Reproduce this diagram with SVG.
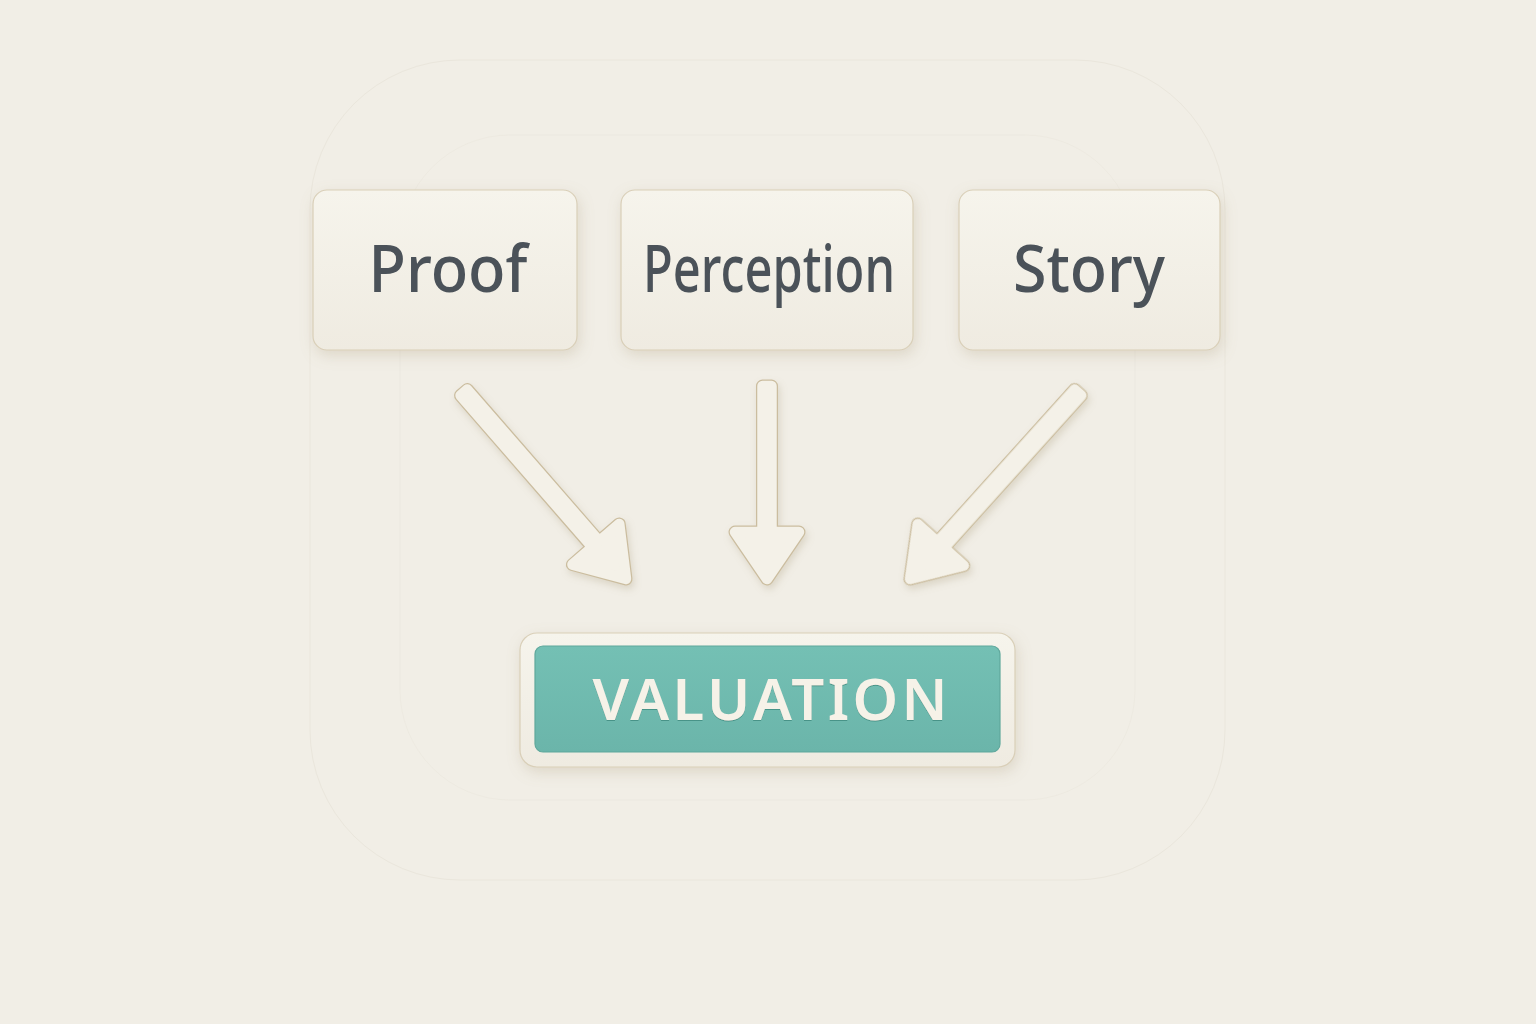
<svg xmlns="http://www.w3.org/2000/svg" width="1536" height="1024" viewBox="0 0 1536 1024">
  <defs>
    <linearGradient id="boxGrad" x1="0" y1="0" x2="0" y2="1">
      <stop offset="0" stop-color="#f6f4ec"/>
      <stop offset="1" stop-color="#efebe1"/>
    </linearGradient>
    <linearGradient id="tealGrad" x1="0" y1="0" x2="0" y2="1">
      <stop offset="0" stop-color="#74c0b4"/>
      <stop offset="1" stop-color="#6bb5aa"/>
    </linearGradient>
    <filter id="shadow" x="-20%" y="-20%" width="140%" height="150%">
      <feDropShadow dx="2" dy="5" stdDeviation="7" flood-color="#b0a284" flood-opacity="0.3"/>
    </filter>
    <filter id="arrowShadow" x="-30%" y="-10%" width="160%" height="130%">
      <feDropShadow dx="2" dy="4" stdDeviation="3.5" flood-color="#ad9f80" flood-opacity="0.3"/>
    </filter>
    <filter id="textInset" x="-5%" y="-10%" width="110%" height="130%">
      <feDropShadow dx="0" dy="1" stdDeviation="0.6" flood-color="#3f8a7f" flood-opacity="0.8"/>
    </filter>
  </defs>
  <style>
    .box { fill: url(#boxGrad); stroke: #d9cfb8; stroke-width: 1.2; }
    .label { font-family: "Noto Sans", "Open Sans", "DejaVu Sans", sans-serif; font-size: 65px; font-weight: 500; fill: #4b5259; text-anchor: middle; }
    .val { font-family: "Noto Sans", "Open Sans", "DejaVu Sans", sans-serif; font-size: 58px; font-weight: 600; fill: #f6f2e8; text-anchor: middle; }
    .arrowEdge { fill: #cbbd9f; stroke: #cbbd9f; stroke-width: 13; stroke-linejoin: round; stroke-linecap: round; }
    .arrowBody { fill: #f4f1e8; stroke: #f4f1e8; stroke-width: 10.5; stroke-linejoin: round; stroke-linecap: round; }
    .faint { fill: none; stroke: #eae6dc; stroke-width: 1; }
  </style>

  <rect x="0" y="0" width="1536" height="1024" fill="#f1eee6"/>

  <!-- faint background outlines -->
  <rect class="faint" x="310" y="60" width="915" height="820" rx="150"/>
  <rect class="faint" x="400" y="135" width="735" height="665" rx="110" opacity="0.5"/>

  <g id="connectors" filter="url(#arrowShadow)">
    <g transform="translate(460,388) rotate(-41)">
      <path class="arrowEdge" d="M -4.5,6 L 4.5,6 L 4.5,207 L 31,207 L 0,253 L -31,207 L -4.5,207 Z"/>
      <path class="arrowBody" d="M -4.5,6 L 4.5,6 L 4.5,207 L 31,207 L 0,253 L -31,207 L -4.5,207 Z"/>
    </g>
    <g transform="translate(767,380)">
      <path class="arrowEdge" d="M -4.5,6 L 4.5,6 L 4.5,152 L 32,152 L 0,199 L -32,152 L -4.5,152 Z"/>
      <path class="arrowBody" d="M -4.5,6 L 4.5,6 L 4.5,152 L 32,152 L 0,199 L -32,152 L -4.5,152 Z"/>
    </g>
    <g transform="translate(1082,388) rotate(42)">
      <path class="arrowEdge" d="M -4.5,6 L 4.5,6 L 4.5,211 L 31,211 L 0,257 L -31,211 L -4.5,211 Z"/>
      <path class="arrowBody" d="M -4.5,6 L 4.5,6 L 4.5,211 L 31,211 L 0,257 L -31,211 L -4.5,211 Z"/>
    </g>
  </g>

  <g id="node-proof">
    <rect class="box" x="313" y="190" width="264" height="160" rx="14" filter="url(#shadow)"/>
    <text class="label" x="448" y="292" textLength="159" lengthAdjust="spacingAndGlyphs">Proof</text>
  </g>

  <g id="node-perception">
    <rect class="box" x="621" y="190" width="292" height="160" rx="14" filter="url(#shadow)"/>
    <text class="label" x="769" y="292" textLength="252" lengthAdjust="spacingAndGlyphs">Perception</text>
  </g>

  <g id="node-story">
    <rect class="box" x="959" y="190" width="261" height="160" rx="14" filter="url(#shadow)"/>
    <text class="label" x="1089" y="292" textLength="152" lengthAdjust="spacingAndGlyphs">Story</text>
  </g>

  <g id="node-valuation">
    <rect class="box" x="520" y="633" width="495" height="134" rx="17" filter="url(#shadow)"/>
    <rect x="535" y="646" width="465" height="106" rx="8" fill="url(#tealGrad)" stroke="#5fa89c" stroke-width="1.2"/>
    <text class="val" x="770" y="720" textLength="355" lengthAdjust="spacing" filter="url(#textInset)">VALUATION</text>
  </g>
</svg>
